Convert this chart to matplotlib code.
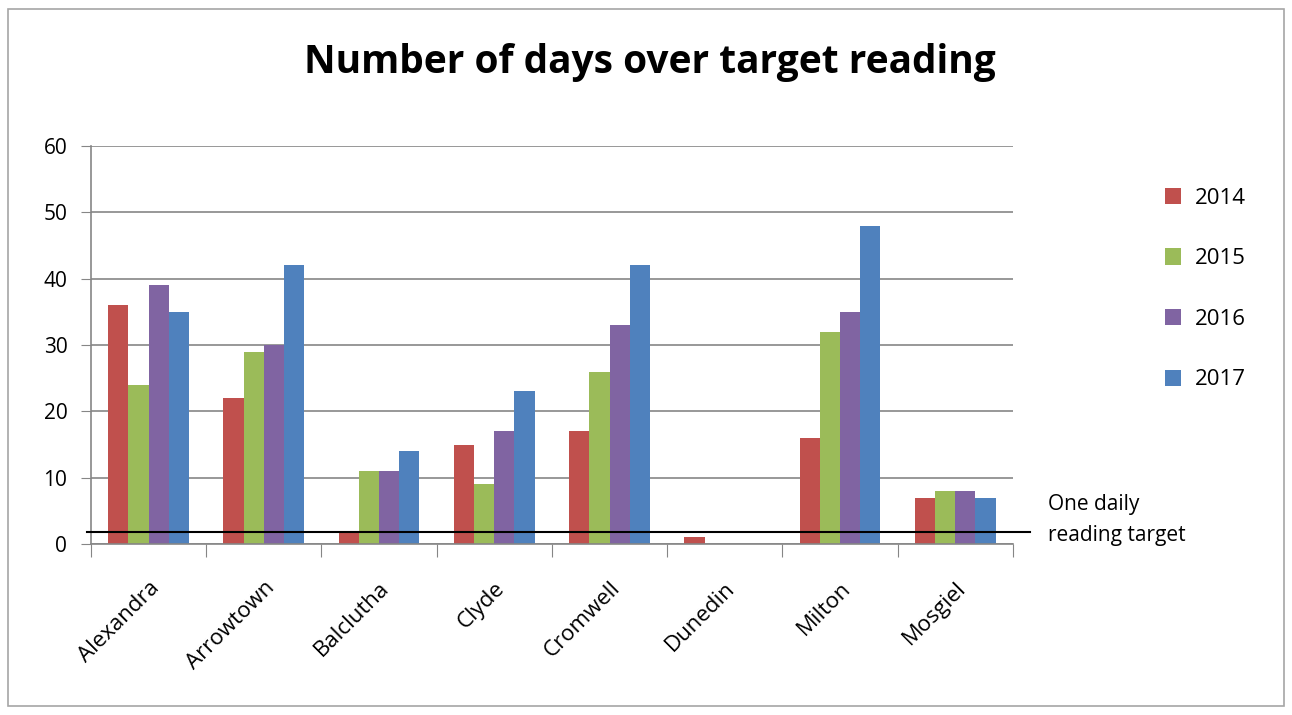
import numpy as np
import matplotlib
matplotlib.use('Agg')
import matplotlib.pyplot as plt
from matplotlib.patches import Rectangle

# chart data
towns = ['Alexandra', 'Arrowtown', 'Balclutha', 'Clyde', 'Cromwell', 'Dunedin', 'Milton', 'Mosgiel']
years = ['2014', '2015', '2016', '2017']
v2014 = [36, 22, 2, 15, 17, 1, 16, 7]
v2015 = [24, 29, 11, 9, 26, 0, 32, 8]
v2016 = [39, 30, 11, 17, 33, 0, 35, 8]
v2017 = [35, 42, 14, 23, 42, 0, 48, 7]
target = 1.8

colors = ['#C0504D', '#9BBB59', '#8064A2', '#4F81BD']

plt.rcParams['font.family'] = ['Open Sans', 'DejaVu Sans']

fig = plt.figure(figsize=(12.92, 7.15), dpi=100)
ax = fig.add_axes([0.0704, 0.239, 0.7136, 0.557])

# frame round the whole chart
fig.patches.append(Rectangle((0.006, 0.012), 0.988, 0.976, transform=fig.transFigure,
                             fill=False, edgecolor='#A6A6A6', linewidth=1.2))

x = np.arange(len(towns))
bw = 0.175
for i, (vals, c, yr) in enumerate(zip([v2014, v2015, v2016, v2017], colors, years)):
    ax.bar(x + (i - 1.5) * bw, vals, width=bw, color=c, label=yr, zorder=2)

ax.set_xlim(-0.5, len(towns) - 0.5)
ax.set_ylim(0, 60)
ax.set_yticks(range(0, 61, 10))
ax.tick_params(axis='y', labelsize=15, length=7, color='#868686', pad=10)
ax.yaxis.grid(True, color='#868686', linewidth=1.2, zorder=0)
ax.set_axisbelow(True)

# ticks between categories, labels at centres
ax.set_xticks(np.arange(-0.5, len(towns)), minor=False)
ax.set_xticklabels([])
ax.set_xticks(x, minor=True)
ax.set_xticklabels(towns, minor=True, rotation=45, ha='right', rotation_mode='anchor', fontsize=16)
ax.tick_params(axis='x', which='major', length=9, color='#868686')
ax.tick_params(axis='x', which='minor', length=0, pad=24)

for s in ['top', 'right']:
    ax.spines[s].set_visible(False)
for s in ['left', 'bottom']:
    ax.spines[s].set_color('#868686')
    ax.spines[s].set_linewidth(1.2)

# one daily reading target line, running past the plot area
ax.plot([-0.53, 7.65], [target, target], color='black', linewidth=1.5, clip_on=False, zorder=3)
ax.text(7.8, 3.6, 'One daily\nreading target', fontsize=15, va='center', ha='left',
        linespacing=1.6)

fig.text(0.503, 0.912, 'Number of days over target reading', fontsize=28, fontweight='bold',
         ha='center', va='center')

leg = ax.legend(loc='upper left', bbox_to_anchor=(1.143, 0.945), frameon=False, fontsize=16,
                labelspacing=1.78, handlelength=0.75, handleheight=0.75, handletextpad=0.6)

fig.savefig('out.png', dpi=100)
